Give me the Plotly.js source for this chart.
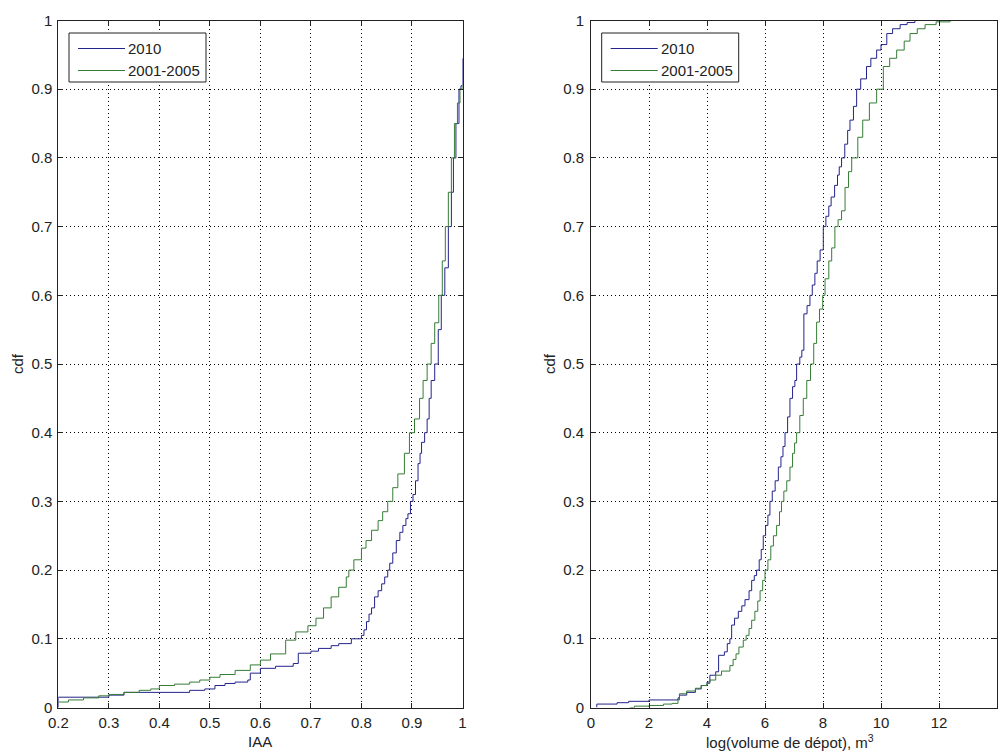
<!DOCTYPE html>
<html>
<head>
<meta charset="utf-8">
<script src="https://cdn.plot.ly/plotly-3.0.1.min.js"></script>
<style>html,body{margin:0;padding:0;background:#fff;}#chart{width:1000px;height:753px;}</style>
</head>
<body>
<div id="chart"></div>
<script>
// ---- Left panel: IAA ----
const iaa2010X = [0.2,0.2,0.30,0.33,0.46,0.49,0.51,0.53,0.55,0.575,0.58,0.60,0.63,0.665,0.675,0.70,0.715,0.74,0.755,0.78,0.80,0.805,0.81,0.815,0.82,0.826,0.833,0.84,0.846,0.852,0.856,0.862,0.869,0.876,0.882,0.888,0.892,0.897,0.902,0.907,0.912,0.916,0.919,0.925,0.93,0.934,0.938,0.945,0.952,0.958,0.965,0.972,0.978,0.982,0.987,0.993,0.997,1.0];
const iaa2010Y = [0,0.015,0.018,0.022,0.025,0.027,0.032,0.035,0.037,0.040,0.05,0.057,0.060,0.064,0.079,0.082,0.086,0.09,0.093,0.1,0.105,0.113,0.125,0.136,0.145,0.161,0.17,0.18,0.19,0.2,0.21,0.225,0.243,0.255,0.265,0.275,0.282,0.3,0.31,0.33,0.355,0.37,0.386,0.40,0.42,0.45,0.476,0.5,0.55,0.6,0.64,0.7,0.75,0.8,0.85,0.9,0.905,0.945];
const iaa0105X = [0.2,0.22,0.25,0.28,0.3,0.33,0.36,0.383,0.4,0.43,0.46,0.48,0.5,0.52,0.55,0.58,0.6,0.62,0.65,0.67,0.694,0.71,0.725,0.74,0.755,0.77,0.775,0.785,0.8,0.809,0.82,0.833,0.842,0.852,0.862,0.872,0.885,0.895,0.905,0.915,0.922,0.93,0.938,0.945,0.953,0.96,0.966,0.972,0.978,0.984,0.99,0.995,1.0];
const iaa0105Y = [0.008,0.011,0.014,0.017,0.019,0.022,0.025,0.027,0.032,0.034,0.037,0.040,0.044,0.048,0.054,0.062,0.069,0.078,0.098,0.11,0.119,0.13,0.145,0.161,0.175,0.19,0.2,0.215,0.232,0.243,0.258,0.272,0.285,0.3,0.32,0.34,0.37,0.4,0.42,0.45,0.476,0.5,0.53,0.56,0.6,0.65,0.7,0.75,0.8,0.85,0.88,0.9,0.905];

// ---- Right panel: log(volume de dépot) ----
const vol2010X = [0.2,0.2,0.9,1.3,2.0,3.0,3.05,3.3,3.6,3.8,4.0,4.1,4.3,4.4,4.6,4.7,4.79,4.85,4.95,5.08,5.2,5.31,5.45,5.54,5.63,5.71,5.8,5.87,5.94,6.02,6.1,6.17,6.25,6.35,6.46,6.55,6.62,6.69,6.78,6.86,6.95,7.03,7.09,7.2,7.27,7.34,7.45,7.55,7.63,7.72,7.8,7.9,8.01,8.1,8.2,8.28,8.4,8.5,8.56,8.64,8.75,8.85,8.93,9.05,9.16,9.3,9.5,9.65,9.85,10.0,10.2,10.4,10.66,10.9,11.17];
const vol2010Y = [0,0.005,0.007,0.009,0.011,0.014,0.018,0.022,0.027,0.032,0.037,0.047,0.052,0.076,0.081,0.093,0.1,0.12,0.13,0.14,0.148,0.157,0.17,0.185,0.192,0.2,0.215,0.23,0.25,0.265,0.28,0.3,0.315,0.33,0.35,0.365,0.38,0.4,0.423,0.45,0.467,0.476,0.5,0.51,0.52,0.573,0.585,0.6,0.615,0.632,0.65,0.666,0.7,0.715,0.73,0.743,0.76,0.775,0.787,0.8,0.82,0.84,0.855,0.875,0.9,0.915,0.933,0.945,0.957,0.965,0.981,0.988,0.994,0.997,1.0];
const vol0105X = [1.34,1.5,2.0,2.5,2.8,3.0,3.05,3.3,3.6,3.8,4.0,4.1,4.3,4.5,4.79,4.9,5.0,5.1,5.25,5.35,5.45,5.54,5.65,5.75,5.83,5.92,6.0,6.1,6.2,6.29,6.4,6.5,6.57,6.65,6.75,6.86,6.95,7.02,7.09,7.2,7.32,7.44,7.57,7.68,7.78,7.88,7.99,8.07,8.2,8.3,8.41,8.52,8.64,8.76,8.88,8.99,9.2,9.37,9.6,9.85,10.08,10.3,10.54,10.8,11.0,11.25,11.52,11.9,12.38];
const vol0105Y = [0.0,0.002,0.003,0.005,0.006,0.011,0.02,0.024,0.028,0.032,0.035,0.04,0.047,0.053,0.061,0.07,0.078,0.088,0.098,0.105,0.115,0.127,0.14,0.155,0.17,0.185,0.2,0.215,0.235,0.25,0.265,0.285,0.3,0.315,0.33,0.35,0.37,0.385,0.4,0.425,0.45,0.476,0.5,0.53,0.561,0.58,0.6,0.624,0.65,0.669,0.7,0.71,0.723,0.757,0.78,0.8,0.83,0.855,0.88,0.9,0.933,0.945,0.957,0.97,0.981,0.988,0.994,0.998,1.0];

const seriesNames = ['2010', '2001-2005'];
const leftXTitle = 'IAA';
const rightXTitle = 'log(volume de dépot), m<sup>3</sup>';
const yTitle = 'cdf';

const BLUE = '#23238c';
const GREEN = '#367c36';
const FONT = 'Liberation Sans, Arial, sans-serif';
const TXT = '#222';
const W = 1000, H = 753;

const traces = [
  {x: iaa2010X, y: iaa2010Y, name: seriesNames[0], mode: 'lines', line: {color: BLUE, width: 1, shape: 'hv'}, xaxis: 'x', yaxis: 'y'},
  {x: iaa0105X, y: iaa0105Y, name: seriesNames[1], mode: 'lines', line: {color: GREEN, width: 1, shape: 'hv'}, xaxis: 'x', yaxis: 'y'},
  {x: vol2010X, y: vol2010Y, name: seriesNames[0], mode: 'lines', line: {color: BLUE, width: 1, shape: 'hv'}, xaxis: 'x2', yaxis: 'y2'},
  {x: vol0105X, y: vol0105Y, name: seriesNames[1], mode: 'lines', line: {color: GREEN, width: 1, shape: 'hv'}, xaxis: 'x2', yaxis: 'y2'}
];

function ax(extra) {
  return Object.assign({
    showline: true, linecolor: '#222', linewidth: 1, mirror: 'ticks',
    ticks: 'inside', ticklen: 5, tickcolor: '#222', tickwidth: 1,
    showgrid: true, gridcolor: '#000', gridwidth: 1, griddash: '1px,3px',
    zeroline: false, tickfont: {family: FONT, size: 15, color: TXT},
    fixedrange: true
  }, extra);
}

const yDom = [1 - 707.5/H, 1 - 20.5/H];

// MATLAB-style legend boxes (box, sample lines, labels) in paper coordinates
const px = v => v / W, py = v => 1 - v / H;
const shapes = [];
const annotations = [];
[69, 601.7].forEach(left => {
  shapes.push({type: 'rect', xref: 'paper', yref: 'paper', x0: px(left), x1: px(left + 137), y0: py(33), y1: py(82),
               line: {color: '#222', width: 1}, fillcolor: '#fff', layer: 'above'});
  [[BLUE, 48.5, seriesNames[0]], [GREEN, 70.5, seriesNames[1]]].forEach(([c, yy, label]) => {
    shapes.push({type: 'line', xref: 'paper', yref: 'paper', x0: px(left + 9), x1: px(left + 56), y0: py(yy), y1: py(yy),
                 line: {color: c, width: 1}, layer: 'above'});
    annotations.push({text: label, xref: 'paper', yref: 'paper', x: px(left + 57), y: py(yy), xanchor: 'left', yanchor: 'middle',
                      showarrow: false, font: {family: FONT, size: 15, color: TXT}});
  });
});
annotations.push(
  {text: yTitle, xref: 'paper', yref: 'paper', x: px(17), y: py(364), textangle: -90, showarrow: false, xanchor: 'center', yanchor: 'middle', font: {family: FONT, size: 15, color: TXT}},
  {text: yTitle, xref: 'paper', yref: 'paper', x: px(549), y: py(364), textangle: -90, showarrow: false, xanchor: 'center', yanchor: 'middle', font: {family: FONT, size: 15, color: TXT}},
  {text: leftXTitle, xref: 'paper', yref: 'paper', x: px(260), y: py(741), showarrow: false, xanchor: 'center', yanchor: 'middle', font: {family: FONT, size: 15, color: TXT}},
  {text: rightXTitle, xref: 'paper', yref: 'paper', x: px(790), y: py(741), showarrow: false, xanchor: 'center', yanchor: 'middle', font: {family: FONT, size: 15, color: TXT}}
);

const layout = {
  width: W, height: H,
  margin: {l: 0, r: 0, t: 0, b: 0},
  paper_bgcolor: '#fff', plot_bgcolor: '#fff',
  showlegend: false,
  xaxis: ax({domain: [0.0583, 0.4625], range: [0.2, 1], tick0: 0.2, dtick: 0.1, anchor: 'y', ticklabelstandoff: 1}),
  yaxis: ax({domain: yDom, range: [0, 1], dtick: 0.1, anchor: 'x', ticklabelstandoff: 2}),
  xaxis2: ax({domain: [0.591, 0.997], range: [0, 14], dtick: 2, anchor: 'y2', ticklabelstandoff: 1}),
  yaxis2: ax({domain: yDom, range: [0, 1], dtick: 0.1, anchor: 'x2', ticklabelstandoff: 3}),
  shapes: shapes,
  annotations: annotations
};

Plotly.newPlot('chart', traces, layout, {staticPlot: true, displayModeBar: false});
</script>
</body>
</html>
